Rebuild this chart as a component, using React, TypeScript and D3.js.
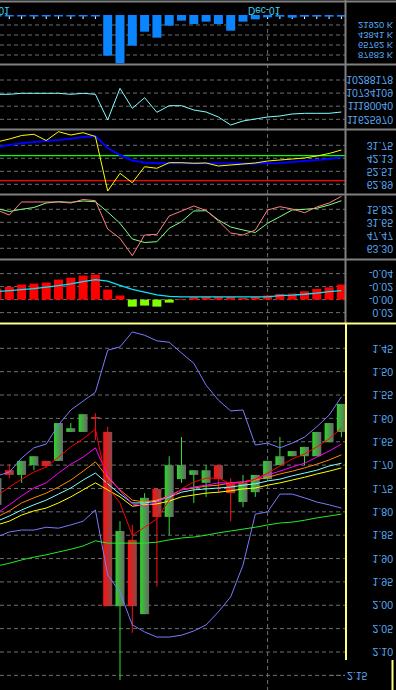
import * as d3 from 'd3';

// candles (time runs left to right, picture is drawn upside down)
const opens = [1.728, 1.721, 1.691, 1.681, 1.702, 1.61, 1.621, 1.591, 1.598, 2.002, 1.841, 2.002, 1.77, 1.811, 1.7, 1.7, 1.711, 1.711, 1.73, 1.76, 1.738, 1.721, 1.691, 1.681, 1.67, 1.661, 1.629, 1.61, 1.569];
const highs = [1.785, 1.728, 1.738, 1.711, 1.706, 1.691, 1.629, 1.629, 1.646, 2.002, 2.16, 2.059, 2.019, 1.96, 1.85, 1.738, 1.781, 1.768, 1.76, 1.82, 1.79, 1.768, 1.73, 1.7, 1.681, 1.7, 1.681, 1.651, 1.64];
const lows = [1.728, 1.698, 1.691, 1.681, 1.691, 1.61, 1.61, 1.591, 1.589, 1.618, 1.82, 1.828, 1.76, 1.751, 1.681, 1.64, 1.711, 1.7, 1.7, 1.728, 1.721, 1.721, 1.691, 1.64, 1.67, 1.661, 1.629, 1.61, 1.569];
const closes = [1.785, 1.711, 1.721, 1.7, 1.691, 1.691, 1.629, 1.629, 1.597, 1.629, 2.002, 1.86, 2.019, 1.751, 1.811, 1.73, 1.721, 1.738, 1.7, 1.738, 1.779, 1.758, 1.73, 1.7, 1.681, 1.681, 1.681, 1.651, 1.629];

const maRed = [1.766, 1.747, 1.73, 1.715, 1.704, 1.683, 1.661, 1.644, 1.623, 1.747, 1.781, 1.85, 1.833, 1.815, 1.775, 1.751, 1.736, 1.728, 1.728, 1.74, 1.74, 1.73, 1.717, 1.702, 1.687, 1.676, 1.661, 1.644, 1.621];
const maMagenta = [1.803, 1.785, 1.766, 1.749, 1.738, 1.717, 1.698, 1.683, 1.663, 1.723, 1.755, 1.783, 1.788, 1.779, 1.766, 1.753, 1.747, 1.743, 1.738, 1.738, 1.736, 1.73, 1.721, 1.713, 1.704, 1.696, 1.683, 1.67, 1.655];
const maOrange = [1.811, 1.798, 1.781, 1.77, 1.76, 1.747, 1.732, 1.713, 1.693, 1.726, 1.753, 1.775, 1.779, 1.775, 1.766, 1.753, 1.749, 1.745, 1.743, 1.738, 1.736, 1.732, 1.726, 1.719, 1.713, 1.706, 1.698, 1.689, 1.678];
const maCyan = [1.82, 1.809, 1.796, 1.785, 1.775, 1.762, 1.749, 1.732, 1.717, 1.74, 1.762, 1.781, 1.781, 1.777, 1.768, 1.758, 1.753, 1.751, 1.749, 1.747, 1.743, 1.74, 1.734, 1.73, 1.723, 1.717, 1.711, 1.702, 1.696];
const maYellow = [1.828, 1.82, 1.807, 1.798, 1.792, 1.781, 1.768, 1.753, 1.738, 1.753, 1.768, 1.788, 1.785, 1.783, 1.777, 1.768, 1.764, 1.76, 1.758, 1.755, 1.751, 1.749, 1.743, 1.738, 1.732, 1.726, 1.719, 1.713, 1.706];
const maLong = [1.916, 1.91, 1.903, 1.897, 1.892, 1.886, 1.88, 1.873, 1.862, 1.867, 1.867, 1.867, 1.867, 1.865, 1.86, 1.856, 1.854, 1.85, 1.845, 1.841, 1.837, 1.833, 1.828, 1.824, 1.822, 1.818, 1.813, 1.809, 1.805];
const bandUpper = [1.723, 1.715, 1.685, 1.663, 1.655, 1.614, 1.582, 1.563, 1.544, 1.454, 1.447, 1.415, 1.422, 1.434, 1.437, 1.46, 1.482, 1.529, 1.561, 1.584, 1.582, 1.657, 1.653, 1.663, 1.653, 1.64, 1.618, 1.593, 1.554];
const bandLower = [1.854, 1.843, 1.839, 1.839, 1.833, 1.835, 1.828, 1.82, 1.796, 1.935, 1.972, 2.042, 2.057, 2.068, 2.068, 2.064, 2.055, 2.042, 2.014, 1.982, 1.914, 1.805, 1.8, 1.762, 1.762, 1.77, 1.779, 1.785, 1.792];

const volumes = [3000, 2800, 3200, 3000, 2900, 3100, 3000, 2900, 3200, 89200, 105900, 67300, 36600, 49700, 23400, 12400, 19700, 14600, 19700, 34400, 14600, 9500, 5100, 3700, 5800, 3700, 3700, 3700, 3700];
const obv = [10774950, 10774950, 10740910, 10740910, 10740910, 10740910, 10774950, 10740910, 10774950, 11649778, 10570710, 11251510, 10890686, 11387670, 11163006, 11163006, 11309378, 11377458, 11547658, 11819978, 11683818, 11615738, 11547658, 11513618, 11445538, 11421710, 11421710, 11421710, 11377458];
const rsi = [29.12, 26.72, 23.93, 22.97, 27.92, 20.89, 23.53, 21.69, 24.72, 68.24, 54.11, 61.61, 48.84, 50.11, 45.64, 45.64, 46.12, 45.88, 48.28, 47.48, 46.68, 45.88, 44.29, 43.49, 42.69, 41.89, 40.29, 38.3, 35.5];
const rsiAvg = [33.11, 31.51, 30.15, 29.12, 28.32, 27.52, 26.48, 25.12, 24.32, 33.91, 39.5, 43.89, 45.48, 46.12, 46.12, 46.12, 46.12, 46.12, 46.28, 46.28, 46.28, 46.28, 46.12, 45.88, 45.08, 44.29, 43.49, 42.69, 41.33];
const rsiLevels = [40, 60];
const stochK = [16.67, 22.76, 6.93, 6.93, 6.93, 6.93, 8.15, 3.89, 5.35, 39.8, 51.13, 72.31, 47.11, 46.26, 23.98, 17.89, 11.8, 17.28, 30.06, 44.67, 47.11, 41.02, 16.67, 12.65, 15.45, 19.96, 13.02, 8.15, 0];
const stochD = [14.85, 18.5, 15.82, 13.63, 8.15, 6.57, 7.3, 5.72, 6.57, 19.11, 32.86, 51.98, 56.24, 55.26, 38.95, 30.92, 17.89, 17.52, 28.85, 37.37, 41.02, 44.06, 32.86, 24.83, 16.67, 15.82, 14.6, 10.58, 5.35];
const macdHist = [-0.0169, -0.0195, -0.0231, -0.0246, -0.0262, -0.0308, -0.0338, -0.0369, -0.0385, -0.0154, -0.0062, 0.0108, 0.0092, 0.0108, 0.0046, -0.0011, -0.0038, -0.0042, -0.0042, -0.0042, -0.0026, -0.0042, -0.0062, -0.0088, -0.0092, -0.0128, -0.0165, -0.0189, -0.0231];
const macdSignal = [-0.0123, -0.0138, -0.0154, -0.0169, -0.0192, -0.0215, -0.0242, -0.0277, -0.0308, -0.0285, -0.022, -0.0158, -0.0115, -0.0072, -0.0051, -0.0043, -0.0042, -0.0042, -0.0042, -0.0042, -0.0042, -0.0042, -0.0042, -0.0062, -0.0069, -0.0082, -0.01, -0.0123, -0.0138];

const dateTicks = [{ idx: 0, label: 'Nov-01' }, { idx: 22, label: 'Dec-01' }];
const gridIdx = [22];
const volTicks = [21920, 43841, 65762, 87683];
const obvTicks = [10288178, 10734109, 11180040, 11625970];
const rsiTicks = [31.75, 42.13, 52.51, 62.89];
const stoTicks = [15.82, 31.65, 47.47, 63.3];
const macdTicks = [-0.04, -0.02, 0, 0.02];
const macdLabels = ['-0.04', '-0.02', '-0.00', '0.02'];
const priceTicks = [1.45, 1.5, 1.55, 1.6, 1.65, 1.7, 1.75, 1.8, 1.85, 1.9, 1.95, 2.0, 2.05, 2.1];
const lastTick = 2.15;

const FONT = '"Liberation Sans", Arial, sans-serif';
const LABEL = '#5aa8f0';
const GRID = '#6e6e6e';
const SEP = '#808080';

// text is mirrored vertically like the rest of the picture
function FlipText(props: { x: number; y: number; anchor?: string; fill?: string; size?: number; children: string }) {
  const { x, y, anchor = 'end', fill = LABEL, size = 10.5, children } = props;
  return (
    <text
      transform={`translate(${x},${y}) scale(1,-1)`}
      textAnchor={anchor}
      fill={fill}
      fontSize={size}
      fontFamily={FONT}
    >
      {children}
    </text>
  );
}

export default function App() {
  const right = 345;
  const x = d3.scaleLinear().domain([0, 28]).range([-3, 341.4]);
  const bw = 9;

  const volY = d3.scaleLinear().domain([0, 87683]).range([15, 55]);
  const obvY = d3.scaleLinear().domain([10288178, 11625970]).range([80, 119.3]);
  const rsiY = d3.scaleLinear().domain([31.75, 62.89]).range([145.3, 184.3]);
  const stoY = d3.scaleLinear().domain([15.82, 63.3]).range([209.3, 248.3]);
  const macdY = d3.scaleLinear().domain([-0.04, 0.02]).range([273.6, 312.6]);
  const priceY = d3.scaleLinear().domain([1.45, 2.1]).range([348.3, 652]);

  const path = (vals: number[], y: d3.ScaleLinear<number, number>) =>
    d3.line<number>().x((_, i) => x(i)).y((v) => y(v))(vals) || '';

  const hGrid = (ticks: number[], y: d3.ScaleLinear<number, number>, key: string) =>
    ticks.map((t) => (
      <line key={key + t} x1={0} x2={right} y1={y(t)} y2={y(t)} stroke={GRID} strokeDasharray="4,3" />
    ));

  const labels = (
    ticks: number[],
    y: d3.ScaleLinear<number, number>,
    fmt: (v: number, i: number) => string,
    size = 10.5
  ) =>
    ticks.map((t, i) => (
      <FlipText key={'l' + t} x={393} y={y(t) - size * 0.36} size={size}>
        {fmt(t, i)}
      </FlipText>
    ));

  const idx = d3.range(closes.length);

  return (
    <div style={{ position: 'absolute', left: 0, top: 0 }}>
      <svg width={396} height={690} style={{ display: 'block', background: '#000' }}>
        <defs>
          <linearGradient id="gUp" x1="0" x2="1" y1="0" y2="0">
            <stop offset="0" stopColor="#2ed42e" />
            <stop offset="1" stopColor="#686868" />
          </linearGradient>
          <linearGradient id="gDn" x1="0" x2="1" y1="0" y2="0">
            <stop offset="0" stopColor="#ff1010" />
            <stop offset="1" stopColor="#8a4848" />
          </linearGradient>
        </defs>
        <rect width={396} height={690} fill="#000" />

        {/* grids */}
        {hGrid(volTicks, volY, 'v')}
        {hGrid(obvTicks, obvY, 'o')}
        {hGrid(rsiTicks, rsiY, 'r')}
        {hGrid(stoTicks, stoY, 's')}
        {hGrid(macdTicks, macdY, 'm')}
        {hGrid([...priceTicks, lastTick], priceY, 'p')}
        {gridIdx.map((g) => (
          <line key={'vg' + g} x1={x(g)} x2={x(g)} y1={15} y2={690} stroke={GRID} strokeDasharray="4,3" />
        ))}

        {/* volume */}
        {idx.map((i) => (
          <line key={'tk' + i} x1={x(i)} x2={x(i)} y1={15} y2={19} stroke="#fff" />
        ))}
        {volumes.map((v, i) => (
          <rect key={'vb' + i} x={x(i) - bw / 2} y={volY(0)} width={bw} height={Math.max(1.5, volY(v) - volY(0))} fill="#0a84ff" />
        ))}
        {dateTicks.map((d) => (
          <FlipText key={d.label} x={x(d.idx) - 3.5} y={7} anchor="middle" fill="#3fd6f0" size={10}>
            {d.label}
          </FlipText>
        ))}

        {/* obv */}
        <path d={path(obv, obvY)} fill="none" stroke="#80ffff" />

        {/* rsi */}
        {rsiLevels.map((l, i) => (
          <line key={'rl' + l} x1={0} x2={right} y1={rsiY(l)} y2={rsiY(l)} stroke={i === 0 ? '#00ff00' : '#ff0000'} strokeWidth={1.3} />
        ))}
        <path d={path(rsiAvg, rsiY)} fill="none" stroke="#0000ff" strokeWidth={2} />
        <path d={path(rsi, rsiY)} fill="none" stroke="#ffff00" />

        {/* stochastic */}
        <path d={path(stochD, stoY)} fill="none" stroke="#80ff80" />
        <path d={path(stochK, stoY)} fill="none" stroke="#ff8080" />

        {/* macd */}
        {macdHist.map((v, i) => (
          <rect
            key={'mh' + i}
            x={x(i) - bw / 2}
            y={Math.min(macdY(v), macdY(0))}
            width={bw}
            height={Math.abs(macdY(v) - macdY(0))}
            fill={v >= 0 ? '#80ff00' : '#ff0000'}
          />
        ))}
        <path d={path(macdSignal, macdY)} fill="none" stroke="#00e8ff" strokeWidth={1.3} />

        {/* price */}
        {idx.map((i) => {
          const up = closes[i] >= opens[i];
          const top = Math.min(priceY(opens[i]), priceY(closes[i]));
          const h = Math.max(1.5, Math.abs(priceY(opens[i]) - priceY(closes[i])));
          return (
            <g key={'c' + i}>
              <line x1={x(i)} x2={x(i)} y1={priceY(lows[i])} y2={priceY(highs[i])} stroke={up ? '#33dd33' : '#ff1010'} />
              <rect x={x(i) - bw / 2} y={top} width={bw} height={h} fill={up ? 'url(#gUp)' : 'url(#gDn)'} />
            </g>
          );
        })}
        <path d={path(bandUpper, priceY)} fill="none" stroke="#7a7aff" />
        <path d={path(bandLower, priceY)} fill="none" stroke="#7a7aff" />
        <path d={path(maLong, priceY)} fill="none" stroke="#22ee22" />
        <path d={path(maYellow, priceY)} fill="none" stroke="#ffff00" />
        <path d={path(maCyan, priceY)} fill="none" stroke="#80ffff" />
        <path d={path(maOrange, priceY)} fill="none" stroke="#ff8800" />
        <path d={path(maMagenta, priceY)} fill="none" stroke="#ff00ff" />
        <path d={path(maRed, priceY)} fill="none" stroke="#ff0000" />

        {/* frame */}
        <rect x={right} y={0} width={51} height={323} fill="#000" />
        <rect x={347} y={323} width={49} height={367} fill="#000" />
        {[1.5, 64.5, 129.5, 194.5, 259.5].map((y) => (
          <line key={'sep' + y} x1={0} x2={396} y1={y} y2={y} stroke={SEP} strokeWidth={2} />
        ))}
        <line x1={345.5} x2={345.5} y1={0} y2={323} stroke={SEP} strokeWidth={2} />
        <line x1={0} x2={396} y1={323.5} y2={323.5} stroke="#ffff88" strokeWidth={2} />
        <line x1={346} x2={346} y1={323} y2={660} stroke="#ffff88" strokeWidth={2} />
        <line x1={392.5} x2={392.5} y1={660} y2={690} stroke="#ffff88" strokeWidth={2} />

        {/* axis labels */}
        {labels(volTicks, volY, (v) => `${v} K`, 9.4)}
        {labels(obvTicks, obvY, (v) => `${v}`)}
        {labels(rsiTicks, rsiY, (v) => v.toFixed(2))}
        {labels(stoTicks, stoY, (v) => v.toFixed(2))}
        {labels(macdTicks, macdY, (_, i) => macdLabels[i])}
        {labels(priceTicks, priceY, (v) => v.toFixed(2))}
        <line x1={330} x2={345} y1={priceY(lastTick)} y2={priceY(lastTick)} stroke={GRID} strokeDasharray="4,3" />
        <FlipText x={347} y={priceY(lastTick) - 3.8} anchor="start">
          {lastTick.toFixed(2)}
        </FlipText>
      </svg>
    </div>
  );
}
